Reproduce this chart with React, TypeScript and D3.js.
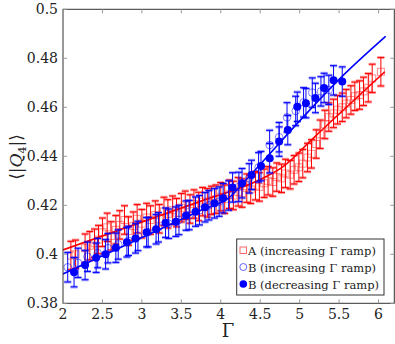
import React from "react";
import * as d3 from "d3";

// A (increasing Γ ramp)
const aGamma = [2.1, 2.16, 2.28, 2.34, 2.4, 2.45, 2.5, 2.56, 2.61, 2.67, 2.72, 2.78, 2.83, 2.89, 2.94, 3.0, 3.06, 3.11, 3.17, 3.22, 3.28, 3.33, 3.39, 3.44, 3.5, 3.55, 3.61, 3.66, 3.72, 3.77, 3.83, 3.88, 3.94, 4.0, 4.05, 4.11, 4.16, 4.22, 4.27, 4.33, 4.38, 4.44, 4.49, 4.55, 4.6, 4.66, 4.71, 4.77, 4.82, 4.88, 4.93, 4.99, 5.04, 5.1, 5.15, 5.21, 5.26, 5.32, 5.37, 5.43, 5.48, 5.54, 5.59, 5.65, 5.7, 5.76, 5.81, 5.87, 5.92, 6.03];
const aValue = [0.3995, 0.4, 0.4025, 0.4035, 0.4045, 0.406, 0.409, 0.411, 0.4075, 0.41, 0.412, 0.414, 0.4095, 0.4115, 0.4145, 0.4125, 0.415, 0.414, 0.416, 0.4145, 0.4175, 0.4165, 0.418, 0.417, 0.419, 0.42, 0.4185, 0.4205, 0.4195, 0.4215, 0.421, 0.422, 0.4225, 0.4235, 0.4225, 0.4245, 0.424, 0.4255, 0.425, 0.427, 0.4265, 0.428, 0.4275, 0.429, 0.43, 0.4295, 0.4315, 0.431, 0.433, 0.4325, 0.4345, 0.4355, 0.437, 0.4395, 0.441, 0.445, 0.449, 0.453, 0.456, 0.4575, 0.459, 0.46, 0.4615, 0.463, 0.4645, 0.465, 0.4665, 0.468, 0.4718, 0.4745];
const aError = 0.0058;

// B (increasing Γ ramp)
const bUpGamma = [2.06, 2.19, 2.31, 2.44, 2.57, 2.7, 2.83, 2.95, 3.08, 3.21, 3.34, 3.47, 3.6, 3.73, 3.85, 3.98, 4.1, 4.23, 4.36, 4.48, 4.62, 4.74, 4.84, 4.95, 5.05, 5.16, 5.27, 5.37];
const bUpValue = [0.3947, 0.3965, 0.399, 0.4005, 0.4025, 0.404, 0.4055, 0.4075, 0.409, 0.411, 0.4125, 0.414, 0.416, 0.418, 0.42, 0.4215, 0.424, 0.4275, 0.431, 0.4355, 0.4446, 0.4478, 0.4559, 0.4585, 0.462, 0.466, 0.4665, 0.4671];

// B (decreasing Γ ramp)
const bDownGamma = [2.14, 2.28, 2.42, 2.54, 2.67, 2.81, 2.92, 3.06, 3.18, 3.3, 3.43, 3.56, 3.68, 3.8, 3.92, 4.03, 4.15, 4.27, 4.39, 4.51, 4.62, 4.74, 4.85, 4.97, 5.08, 5.2, 5.31, 5.43, 5.54];
const bDownValue = [0.3927, 0.3956, 0.3986, 0.4, 0.4027, 0.4049, 0.4065, 0.409, 0.4102, 0.4129, 0.4133, 0.4158, 0.4174, 0.4192, 0.4208, 0.4229, 0.4273, 0.429, 0.4324, 0.436, 0.4392, 0.446, 0.4507, 0.4602, 0.4617, 0.4638, 0.4679, 0.471, 0.4705];
const bError = 0.006;

// fit curves
const fitAGamma = [2.0, 3.73, 4.5, 4.8, 5.15, 6.08];
const fitAValue = [0.4018, 0.4215, 0.4305, 0.436, 0.4467, 0.4745];
const fitBGamma = [2.0, 3.73, 4.13, 4.28, 5.63, 6.09];
const fitBValue = [0.392, 0.4177, 0.4238, 0.429, 0.4755, 0.489];

const xTicks = [2, 2.5, 3, 3.5, 4, 4.5, 5, 5.5, 6];
const yTicks = [0.38, 0.4, 0.42, 0.44, 0.46, 0.48, 0.5];

const W = 395;
const H = 344;
const RED = "#ff0000";
const BLUE = "#0000ff";
const FONT = "DejaVu Serif";

export default function App() {
  const x = d3.scaleLinear().domain([2, 6.2]).range([63, 394.3]);
  const y = d3.scaleLinear().domain([0.38, 0.5]).range([303.3, 9.3]);

  const line = d3
    .line<[number, number]>()
    .x((d) => x(d[0]))
    .y((d) => y(d[1]))
    .curve(d3.curveMonotoneX);

  const fitA = fitAGamma.map((g, i) => [g, fitAValue[i]] as [number, number]);
  const fitB = fitBGamma.map((g, i) => [g, fitBValue[i]] as [number, number]);

  const errBar = (g: number, v: number, e: number, color: string, key: string) => {
    const cx = x(g);
    const top = y(v + e);
    const bot = y(v - e);
    return (
      <g key={key}>
        <line x1={cx - 3.5} x2={cx + 3.5} y1={top} y2={top} stroke={color} strokeOpacity={0.35} strokeWidth={3} />
        <line x1={cx - 3.5} x2={cx + 3.5} y1={bot} y2={bot} stroke={color} strokeOpacity={0.35} strokeWidth={3} />
        <line x1={cx} x2={cx} y1={top} y2={bot} stroke={color} strokeWidth={1} />
        <line x1={cx - 3.5} x2={cx + 3.5} y1={top} y2={top} stroke={color} strokeWidth={1} />
        <line x1={cx - 3.5} x2={cx + 3.5} y1={bot} y2={bot} stroke={color} strokeWidth={1} />
      </g>
    );
  };

  const txt = { fontFamily: FONT };

  return (
    <svg width={W} height={H} style={{ position: "absolute", left: 0, top: 0, fontFamily: FONT }}>
      <rect width={W} height={H} fill="#fff" />
      <defs>
        <clipPath id="plot">
          <rect x={63} y={9.3} width={331.3} height={294} />
        </clipPath>
      </defs>

      <g clipPath="url(#plot)">
        {/* A */}
        {aGamma.map((g, i) => errBar(g, aValue[i], aError, RED, "ae" + i))}
        {aGamma.map((g, i) => (
          <rect key={"am" + i} x={x(g) - 3.5} y={y(aValue[i]) - 3.5} width={7} height={7} fill="none" stroke={RED} strokeOpacity={0.45} strokeWidth={1} />
        ))}
        <path d={line(fitA) || ""} fill="none" stroke={RED} strokeWidth={1.6} />

        {/* B increasing */}
        {bUpGamma.map((g, i) => errBar(g, bUpValue[i], bError, BLUE, "be" + i))}
        {bUpGamma.map((g, i) => (
          <circle key={"bm" + i} cx={x(g)} cy={y(bUpValue[i])} r={3.8} fill="none" stroke={BLUE} strokeOpacity={0.5} strokeWidth={1} />
        ))}

        {/* B decreasing */}
        {bDownGamma.map((g, i) => errBar(g, bDownValue[i], bError, BLUE, "de" + i))}
        {bDownGamma.map((g, i) => (
          <circle key={"dm" + i} cx={x(g)} cy={y(bDownValue[i])} r={4} fill={BLUE} />
        ))}
        <path d={line(fitB) || ""} fill="none" stroke={BLUE} strokeWidth={1.6} />
      </g>

      {/* frame and ticks */}
      <rect x={63} y={9.3} width={331.3} height={294} fill="none" stroke="#333" strokeWidth={1} />
      {xTicks.map((t) => (
        <g key={"xt" + t}>
          <line x1={x(t)} x2={x(t)} y1={303.3} y2={299.3} stroke="#999" />
          <line x1={x(t)} x2={x(t)} y1={9.3} y2={13.3} stroke="#999" />
          <text x={x(t)} y={319} textAnchor="middle" fontSize={14} fill="#222" style={txt}>
            {t}
          </text>
        </g>
      ))}
      {yTicks.map((t) => (
        <g key={"yt" + t}>
          <line x1={63} x2={67} y1={y(t)} y2={y(t)} stroke="#999" />
          <line x1={394.3} x2={390.3} y1={y(t)} y2={y(t)} stroke="#999" />
          <text x={58} y={y(t) + 5} textAnchor="end" fontSize={14} fill="#222" style={txt}>
            {t}
          </text>
        </g>
      ))}

      {/* axis labels */}
      <text x={228} y={337} textAnchor="middle" fontSize={18} fill="#222" style={txt}>Γ</text>
      <text transform="translate(22,157) rotate(-90)" textAnchor="middle" fontSize={17} fill="#222" style={txt}>
        ⟨|<tspan fontStyle="italic">Q</tspan>
        <tspan fontSize={11} dy={4}>4</tspan>
        <tspan dy={-4}>|⟩</tspan>
      </text>

      {/* legend */}
      <g>
        <rect x={236.7} y={239} width={147.3} height={56} fill="#fff" stroke="#333" strokeWidth={1} />
        <rect x={240} y={247} width={6.5} height={6.5} fill="none" stroke={RED} strokeOpacity={0.6} />
        <text x={248} y={254.5} fontSize={11.5} fill="#222" style={txt}>A (increasing Γ ramp)</text>
        <circle cx={243.3} cy={267} r={3.5} fill="none" stroke={BLUE} strokeOpacity={0.6} />
        <text x={248} y={271.5} fontSize={11.5} fill="#222" style={txt}>B (increasing Γ ramp)</text>
        <circle cx={243.3} cy={284} r={3.8} fill={BLUE} />
        <text x={248} y={288.5} fontSize={11.5} fill="#222" style={txt}>B (decreasing Γ ramp)</text>
      </g>
    </svg>
  );
}
